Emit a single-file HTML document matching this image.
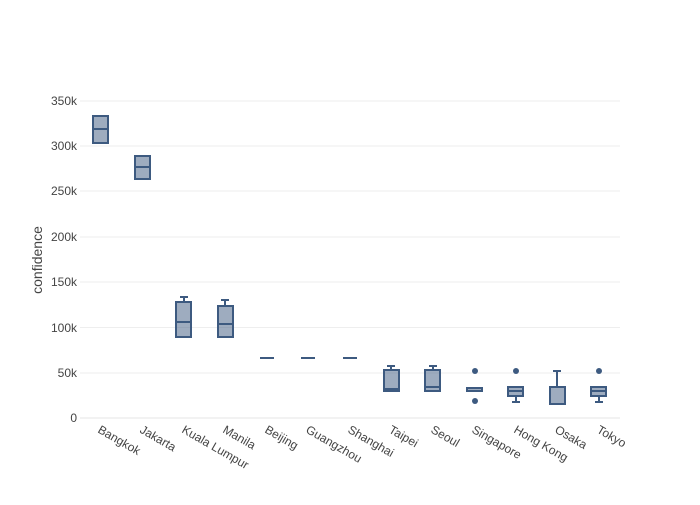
<!DOCTYPE html>
<html><head><meta charset="utf-8"><style>
html,body{margin:0;padding:0;background:#fff;}
svg text{font-family:"Liberation Sans",sans-serif;fill:#444;font-size:12px;}
</style></head><body>
<svg width="700" height="500" xmlns="http://www.w3.org/2000/svg">
<g stroke="#eee" stroke-width="1">
<line x1="80" x2="620" y1="373" y2="373"/><line x1="80" x2="620" y1="327.5" y2="327.5"/>
<line x1="80" x2="620" y1="282" y2="282"/><line x1="80" x2="620" y1="237" y2="237"/>
<line x1="80" x2="620" y1="191" y2="191"/><line x1="80" x2="620" y1="146" y2="146"/>
<line x1="80" x2="620" y1="101" y2="101"/>
</g>
<line x1="80" x2="620" y1="418" y2="418" stroke="#e5e5e5"/>
<g text-anchor="end">
<text x="77" y="422">0</text><text x="77" y="377">50k</text><text x="77" y="332">100k</text>
<text x="77" y="286">150k</text><text x="77" y="241">200k</text><text x="77" y="195">250k</text>
<text x="77" y="150">300k</text><text x="77" y="105">350k</text>
</g>
<text transform="translate(42,260) rotate(-90)" text-anchor="middle" style="font-size:14px">confidence</text>
<g stroke="#3d5a80" stroke-width="2" fill="rgba(61,90,128,0.5)">
<rect x="93" y="116" width="15" height="27"/><line x1="93" x2="108" y1="129" y2="129"/>
<rect x="135" y="156" width="15" height="23"/><line x1="135" x2="150" y1="167" y2="167"/>
<line x1="184" x2="184" y1="297" y2="302"/><line x1="180" x2="188" y1="297" y2="297"/>
<rect x="176" y="302" width="15" height="35"/><line x1="176" x2="191" y1="322" y2="322"/>
<line x1="225" x2="225" y1="300" y2="306"/><line x1="221" x2="229" y1="300" y2="300"/>
<rect x="218" y="306" width="15" height="31"/><line x1="218" x2="233" y1="324" y2="324"/>
<line x1="260" x2="274" y1="358" y2="358"/><line x1="301" x2="315" y1="358" y2="358"/><line x1="343" x2="357" y1="358" y2="358"/>
<line x1="391" x2="391" y1="366" y2="370"/><line x1="387" x2="395" y1="366" y2="366"/>
<rect x="384" y="370" width="15" height="21"/><line x1="384" x2="399" y1="389" y2="389"/>
<line x1="433" x2="433" y1="366" y2="370"/><line x1="429" x2="437" y1="366" y2="366"/>
<rect x="425" y="370" width="15" height="21"/><line x1="425" x2="440" y1="387" y2="387"/>
<rect x="467" y="388" width="15" height="3"/>
<line x1="516" x2="516" y1="396" y2="402"/><line x1="512" x2="520" y1="402" y2="402"/>
<rect x="508" y="387" width="15" height="9"/><line x1="508" x2="523" y1="391" y2="391"/>
<line x1="557" x2="557" y1="371" y2="387"/><line x1="553" x2="561" y1="371" y2="371"/>
<rect x="550" y="387" width="15" height="17"/>
<line x1="599" x2="599" y1="396" y2="402"/><line x1="595" x2="603" y1="402" y2="402"/>
<rect x="591" y="387" width="15" height="9"/><line x1="591" x2="606" y1="391" y2="391"/>
</g>
<g fill="#3d5a80">
<circle cx="475" cy="371" r="3"/><circle cx="475" cy="401" r="3"/>
<circle cx="516" cy="371" r="3"/><circle cx="599" cy="371" r="3"/>
</g>
<g style="font-size:13px">
<text transform="translate(97,432) rotate(30)">Bangkok</text>
<text transform="translate(139,432) rotate(30)">Jakarta</text>
<text transform="translate(181,432) rotate(30)">Kuala Lumpur</text>
<text transform="translate(222,432) rotate(30)">Manila</text>
<text transform="translate(264,432) rotate(30)">Beijing</text>
<text transform="translate(305,432) rotate(30)">Guangzhou</text>
<text transform="translate(347,432) rotate(30)">Shanghai</text>
<text transform="translate(388,432) rotate(30)">Taipei</text>
<text transform="translate(430,432) rotate(30)">Seoul</text>
<text transform="translate(471,432) rotate(30)">Singapore</text>
<text transform="translate(513,432) rotate(30)">Hong Kong</text>
<text transform="translate(554,432) rotate(30)">Osaka</text>
<text transform="translate(596,432) rotate(30)">Tokyo</text>
</g>
</svg>
</body></html>
